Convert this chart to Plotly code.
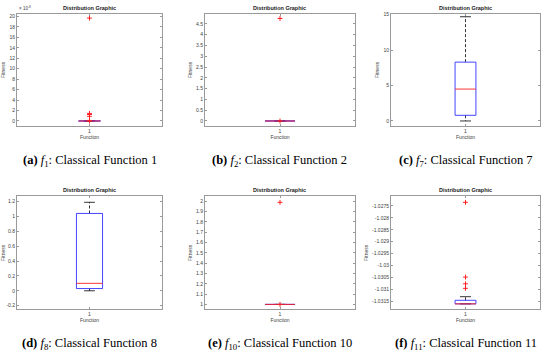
import plotly.graph_objects as go

# ---------------- data ----------------
LETTERS = ["a", "b", "c", "d", "e", "f"]
FUNC_INDEX = [1, 2, 7, 8, 10, 11]
CATEGORY = ["1"]
Q1 = [0.0, 0.0, 0.8, 0.03, 1.0, -1.0316]
MEDIAN = [0.0, 0.0, 4.5, 0.10, 1.0, -1.0316]
Q3 = [0.0, 0.0, 8.3, 1.04, 1.0, -1.03145]
WHISK_LO = [0.0, 0.0, 0.0, 0.0, 1.0, -1.0316]
WHISK_HI = [0.0, 0.0, 14.7, 1.19, 1.0, -1.0313]
OUTLIERS = [
    [19.7, 1.45, 1.25, 0.9, 0.1, 0.0],   # x 1e-8
    [4.75, 0.0],
    [],
    [],
    [1.99, 1.0],
    [-1.02735, -1.03048, -1.03076, -1.03095],
]
F1_EXPONENT = -8
TICKVALS = [
    [0, 2, 4, 6, 8, 10, 12, 14, 16, 18, 20],
    [0, 0.5, 1, 1.5, 2, 2.5, 3, 3.5, 4, 4.5],
    [0, 5, 10, 15],
    [-0.2, 0, 0.2, 0.4, 0.6, 0.8, 1.0, 1.2],
    [1, 1.1, 1.2, 1.3, 1.4, 1.5, 1.6, 1.7, 1.8, 1.9, 2],
    [-1.0315, -1.031, -1.0305, -1.03, -1.0295, -1.029, -1.0285, -1.028, -1.0275],
]
TICKTEXT = [
    ["0", "2", "4", "6", "8", "10", "12", "14", "16", "18", "20"],
    ["0", "0.5", "1", "1.5", "2", "2.5", "3", "3.5", "4", "4.5"],
    ["0", "5", "10", "15"],
    ["-0.2", "0", "0.2", "0.4", "0.6", "0.8", "1", "1.2"],
    ["1", "1.1", "1.2", "1.3", "1.4", "1.5", "1.6", "1.7", "1.8", "1.9", "2"],
    ["-1.0315", "-1.031", "-1.0305", "-1.03", "-1.0295", "-1.029", "-1.0285", "-1.028", "-1.0275"],
]
YRANGE = [
    [-0.95, 20.5],
    [-0.23, 4.96],
    [-0.7, 15.1],
    [-0.25, 1.27],
    [0.952, 2.048],
    [-1.03183, -1.02710],
]

# ---------------- layout (pixels) ----------------
W, H = 550, 352
COL_X = [(17, 162), (205, 355), (391, 540)]
ROW_Y = [(11, 124), (195, 309)]
CAPTION_TOP = [149, 334]
BOX_HALF = [0.076, 0.1, 0.07, 0.09, 0.1, 0.07]
CAP_HALF = 0.037

TXT = "#404040"
AX = "#9a9a9a"

fig = go.Figure()
layout = {}
annotations = []

for i in range(6):
    r, c = divmod(i, 3)
    xa = "x" if i == 0 else f"x{i+1}"
    ya = "y" if i == 0 else f"y{i+1}"
    x0p, x1p = COL_X[c]
    y0p, y1p = ROW_Y[r]
    xc = 1.0
    hw = BOX_HALF[i]
    # whiskers (dashed)
    fig.add_trace(go.Scatter(x=[xc, xc, None, xc, xc], y=[Q3[i], WHISK_HI[i], None, Q1[i], WHISK_LO[i]],
                             mode="lines", line=dict(color="black", width=0.8, dash="3px,2px"),
                             xaxis=xa, yaxis=ya, showlegend=False, hoverinfo="skip"))
    # caps
    fig.add_trace(go.Scatter(x=[xc - CAP_HALF, xc + CAP_HALF, None, xc - CAP_HALF, xc + CAP_HALF],
                             y=[WHISK_HI[i], WHISK_HI[i], None, WHISK_LO[i], WHISK_LO[i]],
                             mode="lines", line=dict(color="black", width=0.8),
                             xaxis=xa, yaxis=ya, showlegend=False, hoverinfo="skip"))
    # box
    fig.add_trace(go.Scatter(x=[xc - hw, xc + hw, xc + hw, xc - hw, xc - hw],
                             y=[Q1[i], Q1[i], Q3[i], Q3[i], Q1[i]],
                             mode="lines", line=dict(color="#3030ff", width=0.9),
                             xaxis=xa, yaxis=ya, showlegend=False, hoverinfo="skip"))
    # median
    fig.add_trace(go.Scatter(x=[xc - hw, xc + hw], y=[MEDIAN[i], MEDIAN[i]],
                             mode="lines", line=dict(color="#ff2020", width=0.9),
                             xaxis=xa, yaxis=ya, showlegend=False, hoverinfo="skip"))
    # outliers
    if OUTLIERS[i]:
        fig.add_trace(go.Scatter(x=[xc] * len(OUTLIERS[i]), y=OUTLIERS[i], mode="markers",
                                 marker=dict(symbol="cross-thin", size=3.5, line=dict(color="#ff2020", width=1)),
                                 xaxis=xa, yaxis=ya, showlegend=False, hoverinfo="skip"))

    common = dict(showline=True, linecolor=AX, linewidth=1, mirror="ticks", ticks="inside",
                  ticklen=2, tickcolor=AX, showgrid=False, zeroline=False,
                  tickfont=dict(size=5, color=TXT, family="Liberation Sans"))
    layout["xaxis" if i == 0 else f"xaxis{i+1}"] = dict(
        domain=[x0p / W, x1p / W], anchor=ya, range=[0.5, 1.5],
        tickvals=[1], ticktext=CATEGORY,
        title=dict(text="Function", font=dict(size=5, color=TXT, family="Liberation Sans"), standoff=2),
        **common)
    layout["yaxis" if i == 0 else f"yaxis{i+1}"] = dict(
        domain=[1 - y1p / H, 1 - y0p / H], anchor=xa, range=YRANGE[i],
        tickvals=TICKVALS[i], ticktext=TICKTEXT[i],
        title=dict(text="Fitness", font=dict(size=5, color=TXT, family="Liberation Sans"), standoff=3),
        **common)
    # subplot title
    annotations.append(dict(text="<b>Distribution Graphic</b>", x=(x0p + x1p) / 2 / W, y=1 - (y0p - 1) / H,
                            xref="paper", yref="paper", xanchor="center", yanchor="bottom",
                            showarrow=False, font=dict(size=5.5, color="#202020", family="Liberation Sans")))
    # caption
    cap = f"<b>({LETTERS[i]})</b> <i>f</i><sub>{FUNC_INDEX[i]}</sub>: Classical Function {FUNC_INDEX[i]}"
    annotations.append(dict(text=cap, x=(x0p + x1p) / 2 / W, y=1 - CAPTION_TOP[r] / H,
                            xref="paper", yref="paper", xanchor="center", yanchor="top",
                            showarrow=False, font=dict(size=12.5, color="black", family="Liberation Serif")))

# exponent label for panel a
annotations.append(dict(text=f"\u00d7 10<sup>{F1_EXPONENT}</sup>", x=COL_X[0][0] / W, y=1 - (ROW_Y[0][0] - 1) / H,
                        xref="paper", yref="paper", xanchor="left", yanchor="bottom", showarrow=False,
                        font=dict(size=4.5, color=TXT, family="Liberation Sans")))

fig.update_layout(**layout)
fig.update_layout(annotations=annotations, width=W, height=H,
                  margin=dict(l=0, r=0, t=0, b=0),
                  paper_bgcolor="white", plot_bgcolor="white")

fig.write_html("out.html", config={"displayModeBar": False},
               post_script="document.body.style.margin='0';document.body.style.padding='0';")
